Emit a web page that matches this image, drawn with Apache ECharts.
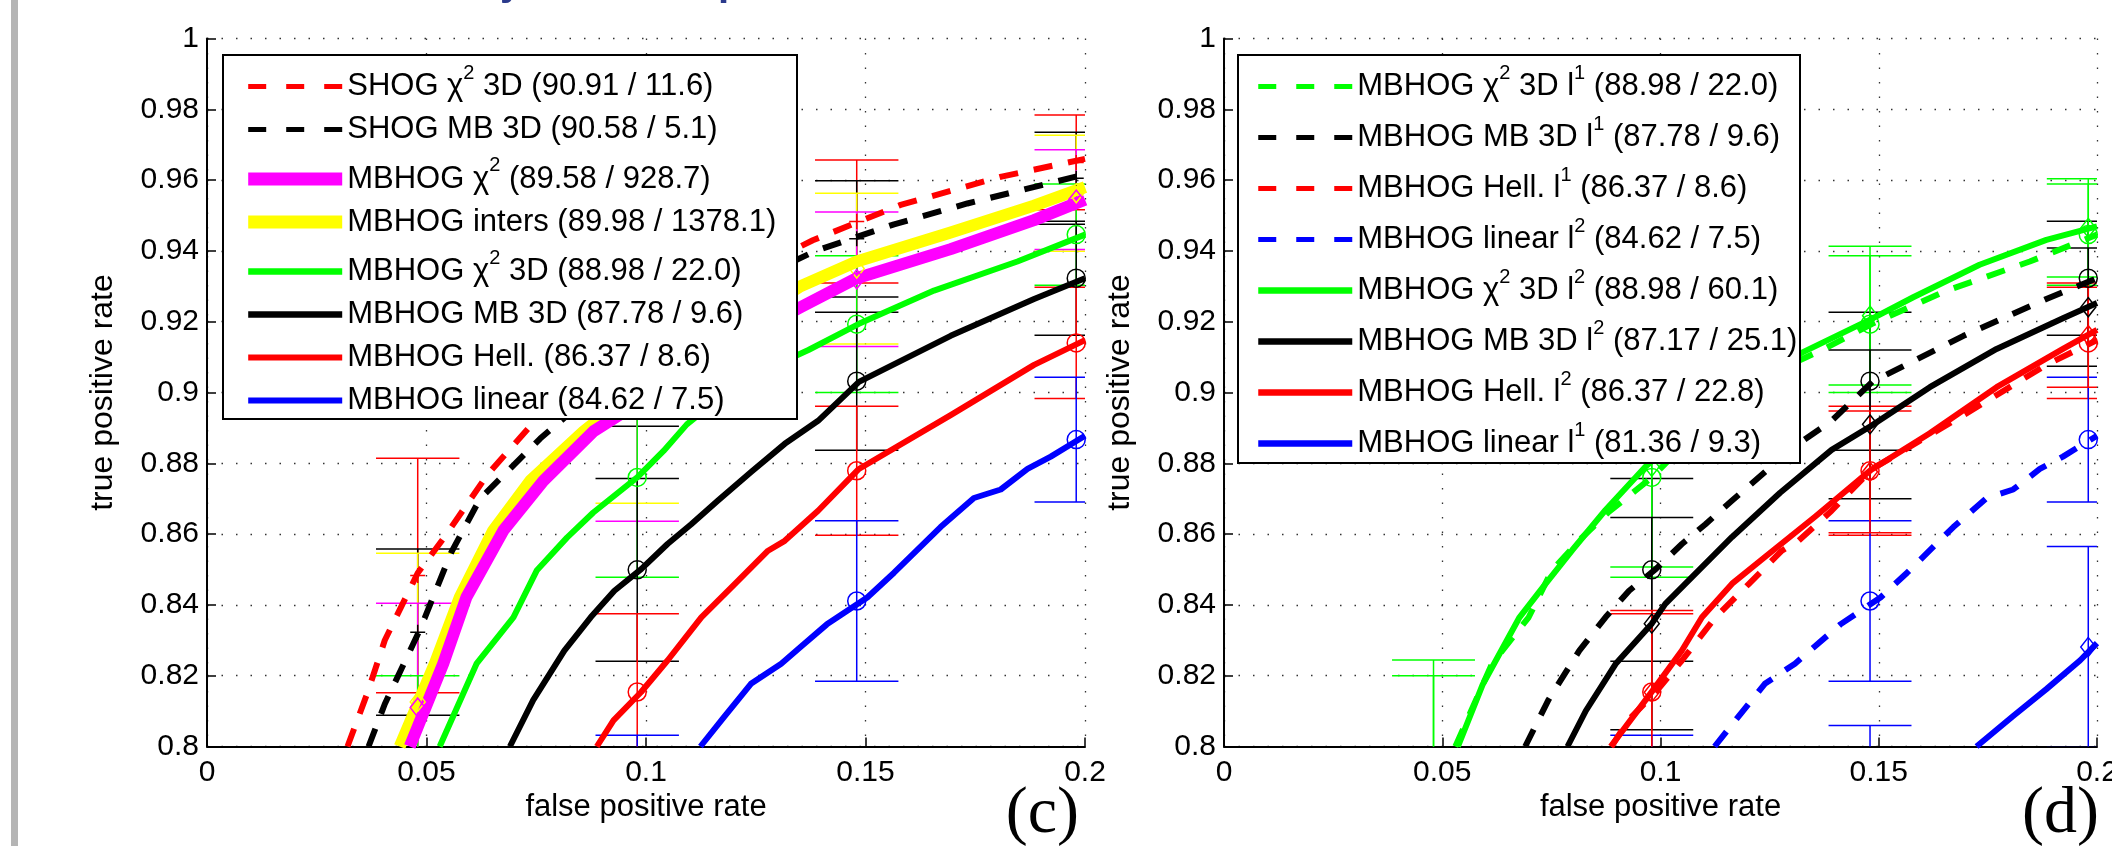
<!DOCTYPE html>
<html>
<head>
<meta charset="utf-8">
<script src="https://cdn.jsdelivr.net/npm/echarts@6.0.0/dist/echarts.min.js"></script>
<style>
  html, body { margin: 0; padding: 0; background: #fff; }
  #chart { width: 2112px; height: 846px; }
</style>
</head>
<body>
<div id="chart"></div>
<script>
// axis ticks
const fprTicks = [0, 0.05, 0.1, 0.15, 0.2];
const tprTicks = [0.8, 0.82, 0.84, 0.86, 0.88, 0.9, 0.92, 0.94, 0.96, 0.98, 1];

// panel (c): ROC curves [fpr, tpr]
const shogChi3d = [[0.032,0.800],[0.0365,0.815],[0.0405,0.830],[0.048,0.849],[0.054,0.859],[0.064,0.877],[0.074,0.891],[0.090,0.908],[0.105,0.921],[0.120,0.932],[0.138,0.943],[0.158,0.953],[0.181,0.961],[0.200,0.966]];
const shogMb3d = [[0.0368,0.800],[0.0405,0.812],[0.0485,0.833],[0.0557,0.855],[0.0622,0.870],[0.0759,0.887],[0.090,0.902],[0.105,0.917],[0.120,0.929],[0.1386,0.940],[0.1565,0.9475],[0.1732,0.9534],[0.200,0.9616]];
const mbhogChi = [[0.0462,0.800],[0.0538,0.8234],[0.0591,0.8422],[0.0675,0.861],[0.0766,0.875],[0.088,0.889],[0.0941,0.8938],[0.105,0.903],[0.120,0.914],[0.1352,0.9241],[0.148,0.9323],[0.1694,0.9405],[0.1884,0.9487],[0.200,0.9545]];
const mbhogInters = [[0.0439,0.800],[0.0519,0.8234],[0.0576,0.8422],[0.0652,0.861],[0.0736,0.875],[0.0858,0.889],[0.095,0.898],[0.107,0.908],[0.120,0.918],[0.1352,0.930],[0.148,0.937],[0.1694,0.9452],[0.1884,0.9528],[0.200,0.958]];
const mbhogChi3d = [[0.053,0.800],[0.0614,0.8234],[0.0698,0.8365],[0.0751,0.8497],[0.082,0.859],[0.088,0.8661],[0.098,0.876],[0.104,0.8835],[0.1093,0.891],[0.1215,0.9032],[0.137,0.912],[0.1485,0.9194],[0.1656,0.9288],[0.1846,0.937],[0.200,0.9446]];
const mbhogMb3d = [[0.069,0.800],[0.0743,0.8131],[0.0814,0.8271],[0.0874,0.8365],[0.0928,0.844],[0.0989,0.8501],[0.1049,0.8572],[0.1103,0.8628],[0.1164,0.8695],[0.124,0.8776],[0.1316,0.8855],[0.1392,0.892],[0.1485,0.903],[0.1694,0.916],[0.1884,0.9264],[0.200,0.9323]];
const mbhogHell = [[0.0888,0.800],[0.0926,0.8074],[0.0989,0.8154],[0.1049,0.8243],[0.1126,0.8365],[0.1202,0.8459],[0.1278,0.8553],[0.1316,0.8581],[0.1392,0.8666],[0.1485,0.8784],[0.1694,0.8936],[0.1884,0.9078],[0.200,0.9148]];
const mbhogLinear = [[0.1124,0.800],[0.1178,0.8084],[0.1239,0.8177],[0.1308,0.8234],[0.1352,0.8281],[0.1412,0.8345],[0.1504,0.8421],[0.1565,0.8491],[0.1671,0.862],[0.1747,0.8702],[0.1808,0.8726],[0.1869,0.8784],[0.1922,0.8819],[0.200,0.8878]];

// panel (d): the l2 / l1 variants (dashed ones reuse the panel (c) curves)
const chi3dL2 = [[0.0536,0.800],[0.0593,0.8176],[0.0677,0.8365],[0.0737,0.846],[0.0798,0.8555],[0.0874,0.8668],[0.0966,0.8791],[0.110,0.893],[0.120,0.902],[0.1323,0.9112],[0.1487,0.921],[0.1579,0.9269],[0.1731,0.9361],[0.1884,0.9431],[0.200,0.9469]];
const mb3dL2 = [[0.0787,0.800],[0.0829,0.8101],[0.0897,0.8233],[0.098,0.8347],[0.1011,0.8403],[0.1088,0.8498],[0.1164,0.8592],[0.1274,0.8717],[0.1392,0.8838],[0.1483,0.8906],[0.1617,0.9015],[0.177,0.9123],[0.1922,0.921],[0.200,0.9253]];
const hellL2 = [[0.0886,0.800],[0.0979,0.8153],[0.1049,0.8271],[0.1095,0.8365],[0.1164,0.846],[0.124,0.8536],[0.1354,0.8649],[0.1483,0.8782],[0.1617,0.8885],[0.177,0.9015],[0.1922,0.9123],[0.200,0.9177]];
const linearL1 = [[0.1724,0.800],[0.1808,0.8086],[0.1884,0.8162],[0.1961,0.8243],[0.200,0.8292]];

// error bars [fpr, mean tpr, std]
const errShogChi3d = [[0.048,0.8483,0.0331],[0.098,0.914,0.020],[0.148,0.9483,0.0174],[0.198,0.965,0.0134]];
const errShogMb3d = [[0.048,0.8323,0.0235],[0.098,0.905,0.0145],[0.148,0.9434,0.0164],[0.198,0.9605,0.013]];
const errMbhogChi = [[0.048,0.811,0.0295],[0.098,0.897,0.0334],[0.148,0.932,0.019],[0.198,0.9545,0.0141]];
const errMbhogInters = [[0.048,0.8126,0.042],[0.098,0.903,0.0343],[0.148,0.935,0.0213],[0.198,0.9563,0.0164]];
const errMbhogChi3d = [[0.048,0.790,0.030],[0.098,0.876,0.0282],[0.148,0.9193,0.0193],[0.198,0.9446,0.0143]];
const errMbhogMb3d = [[0.098,0.8499,0.0258],[0.148,0.9032,0.0195],[0.198,0.9323,0.0161]];
const errMbhogHell = [[0.098,0.8154,0.0221],[0.148,0.8779,0.0182],[0.198,0.914,0.0157]];
const errMbhogLinear = [[0.098,0.780,0.0232],[0.148,0.8411,0.0227],[0.198,0.8867,0.0176]];
const errChi3dL2 = [[0.048,0.790,0.0344],[0.098,0.879,0.0283],[0.148,0.9217,0.0196],[0.198,0.9465,0.0139]];
const errMb3dL2 = [[0.098,0.8347,0.030],[0.148,0.891,0.021],[0.198,0.9241,0.0167]];
const errHellL2 = [[0.098,0.8153,0.0231],[0.148,0.8776,0.0172],[0.198,0.9162,0.0147]];
const errLinearL1 = [[0.148,0.780,0.0259],[0.198,0.8281,0.0284]];

// legend labels ({s|..} = superscript)
const namesC = [
  'SHOG χ{s|2} 3D (90.91 / 11.6)',
  'SHOG MB 3D (90.58 / 5.1)',
  'MBHOG χ{s|2} (89.58 / 928.7)',
  'MBHOG inters (89.98 / 1378.1)',
  'MBHOG χ{s|2} 3D (88.98 / 22.0)',
  'MBHOG MB 3D (87.78 / 9.6)',
  'MBHOG Hell. (86.37 / 8.6)',
  'MBHOG linear (84.62 / 7.5)'
];
const namesD = [
  'MBHOG χ{s|2} 3D l{s|1} (88.98 / 22.0)',
  'MBHOG MB 3D l{s|1} (87.78 / 9.6)',
  'MBHOG Hell. l{s|1} (86.37 / 8.6)',
  'MBHOG linear l{s|2} (84.62 / 7.5)',
  'MBHOG χ{s|2} 3D l{s|2} (88.98 / 60.1)',
  'MBHOG MB 3D l{s|2} (87.17 / 25.1)',
  'MBHOG Hell. l{s|2} (86.37 / 22.8)',
  'MBHOG linear l{s|1} (81.36 / 9.3)'
];

const FONT = '"Liberation Sans", Arial, Helvetica, sans-serif';
const RED = '#ff0000', BLACK = '#000000', MAG = '#ff00ff', YEL = '#ffff00', GRN = '#00ff00', BLUE = '#0000ff';
const CAP = 0.0095;
const PLUS = 'path://M0,8H16M8,0V16';

function lineSeries(name, data, color, width, dashed, xi) {
  return {
    name: name, type: 'line', xAxisIndex: xi, yAxisIndex: xi, data: data,
    symbol: 'none', showSymbol: false, clip: true, silent: true, z: 2,
    animation: false,
    lineStyle: { color: color, width: width, type: dashed ? [19, 16] : 'solid', cap: 'butt', join: 'round' },
    itemStyle: { color: color },
    emphasis: { disabled: true }
  };
}

function errSeries(data, color, xi) {
  return {
    type: 'custom', xAxisIndex: xi, yAxisIndex: xi, data: data, clip: true, silent: true, z: 2,
    encode: { x: 0, y: 1 },
    renderItem: function (params, api) {
      const x = api.value(0), m = api.value(1), s = api.value(2);
      const top = api.coord([x, m + s]);
      const bot = api.coord([x, m - s]);
      const w = api.size([CAP, 0])[0];
      const st = { stroke: color, lineWidth: 1.5, fill: null };
      return {
        type: 'group', children: [
          { type: 'line', shape: { x1: top[0], y1: top[1], x2: bot[0], y2: bot[1] }, style: st },
          { type: 'line', shape: { x1: top[0] - w, y1: top[1], x2: top[0] + w, y2: top[1] }, style: st },
          { type: 'line', shape: { x1: bot[0] - w, y1: bot[1], x2: bot[0] + w, y2: bot[1] }, style: st }
        ]
      };
    }
  };
}

function markSeries(errs, color, symbol, xi) {
  return {
    type: 'scatter', xAxisIndex: xi, yAxisIndex: xi, silent: true, z: 2, clip: true,
    symbol: symbol, symbolSize: symbol === 'diamond' ? [15, 19] : (symbol === PLUS ? 15 : 18),
    itemStyle: { color: 'rgba(0,0,0,0)', borderColor: color, borderWidth: 1.5, opacity: 1 },
    emphasis: { disabled: true },
    data: errs.map(function (e) { return [e[0], e[1]]; })
  };
}

function legendItem(name, width, dashed) {
  return {
    name: name,
    itemStyle: { opacity: 0 },
    lineStyle: { width: width, type: dashed ? [18, 20] : 'solid', cap: 'butt' }
  };
}

function legendBox(left, gap, items) {
  return {
    orient: 'vertical', left: left, top: 63, padding: 0, itemGap: gap,
    itemWidth: 94, itemHeight: 14, selectedMode: false, z: 4,
    backgroundColor: 'transparent',
    formatter: function (n) { return n; },
    textStyle: {
      fontFamily: FONT, fontSize: 31, color: '#000', lineHeight: 34,
      rich: { s: { fontFamily: FONT, fontSize: 20, color: '#000', padding: [0, 0, 27, 0] } }
    },
    data: items
  };
}

function xAxis(i) {
  return {
    type: 'value', gridIndex: i, min: fprTicks[0], max: fprTicks[fprTicks.length - 1], interval: 0.05,
    name: 'false positive rate', nameLocation: 'middle', nameGap: 45,
    nameTextStyle: { fontFamily: FONT, fontSize: 31, color: '#000' },
    axisLine: { onZero: false, lineStyle: { color: '#000', width: 2 } },
    axisTick: { inside: true, length: 9, lineStyle: { color: '#000', width: 1.5 } },
    axisLabel: { fontFamily: FONT, fontSize: 30, color: '#000', margin: 11, showMaxLabel: true, showMinLabel: true,
      formatter: function (v) { return String(+v.toFixed(2)); } },
    splitLine: { show: true, lineStyle: { color: '#333', width: 1.3, type: [1.5, 13] } }
  };
}

function yAxis(i) {
  return {
    type: 'value', gridIndex: i, min: tprTicks[0], max: tprTicks[tprTicks.length - 1], interval: 0.02,
    name: 'true positive rate', nameLocation: 'middle', nameGap: 88,
    nameTextStyle: { fontFamily: FONT, fontSize: 32, color: '#000' },
    axisLine: { onZero: false, lineStyle: { color: '#000', width: 2 } },
    axisTick: { inside: true, length: 9, lineStyle: { color: '#000', width: 1.5 } },
    axisLabel: { fontFamily: FONT, fontSize: 30, color: '#000', margin: 8, showMaxLabel: true, showMinLabel: true,
      formatter: function (v) { return String(+v.toFixed(2)); } },
    splitLine: { show: true, lineStyle: { color: '#333', width: 1.3, type: [1.5, 13] } }
  };
}

const chart = echarts.init(document.getElementById('chart'), null, { renderer: 'canvas' });

const series = [
  // panel (c)
  lineSeries(namesC[0], shogChi3d, RED, 6, true, 0),
  lineSeries(namesC[1], shogMb3d, BLACK, 6, true, 0),
  lineSeries(namesC[3], mbhogInters, YEL, 12, false, 0),
  lineSeries(namesC[2], mbhogChi, MAG, 12, false, 0),
  lineSeries(namesC[4], mbhogChi3d, GRN, 6, false, 0),
  lineSeries(namesC[5], mbhogMb3d, BLACK, 6, false, 0),
  lineSeries(namesC[6], mbhogHell, RED, 6, false, 0),
  lineSeries(namesC[7], mbhogLinear, BLUE, 6, false, 0),
  errSeries(errShogChi3d, RED, 0),
  errSeries(errShogMb3d, BLACK, 0),
  errSeries(errMbhogInters, YEL, 0),
  errSeries(errMbhogChi, MAG, 0),
  errSeries(errMbhogChi3d, GRN, 0),
  errSeries(errMbhogMb3d, BLACK, 0),
  errSeries(errMbhogHell, RED, 0),
  errSeries(errMbhogLinear, BLUE, 0),
  markSeries(errShogChi3d, RED, PLUS, 0),
  markSeries(errShogMb3d, BLACK, PLUS, 0),
  markSeries(errMbhogInters, YEL, 'diamond', 0),
  markSeries(errMbhogChi, MAG, 'diamond', 0),
  markSeries(errMbhogChi3d, GRN, 'circle', 0),
  markSeries(errMbhogMb3d, BLACK, 'circle', 0),
  markSeries(errMbhogHell, RED, 'circle', 0),
  markSeries(errMbhogLinear, BLUE, 'circle', 0),
  // panel (d)
  lineSeries(namesD[0], mbhogChi3d, GRN, 6, true, 1),
  lineSeries(namesD[1], mbhogMb3d, BLACK, 6, true, 1),
  lineSeries(namesD[2], mbhogHell, RED, 6, true, 1),
  lineSeries(namesD[3], mbhogLinear, BLUE, 6, true, 1),
  lineSeries(namesD[4], chi3dL2, GRN, 6, false, 1),
  lineSeries(namesD[5], mb3dL2, BLACK, 6, false, 1),
  lineSeries(namesD[6], hellL2, RED, 6, false, 1),
  lineSeries(namesD[7], linearL1, BLUE, 6, false, 1),
  errSeries(errMbhogChi3d, GRN, 1),
  errSeries(errMbhogMb3d, BLACK, 1),
  errSeries(errMbhogHell, RED, 1),
  errSeries(errMbhogLinear, BLUE, 1),
  errSeries(errChi3dL2, GRN, 1),
  errSeries(errMb3dL2, BLACK, 1),
  errSeries(errHellL2, RED, 1),
  errSeries(errLinearL1, BLUE, 1),
  markSeries(errMbhogChi3d, GRN, 'circle', 1),
  markSeries(errMbhogMb3d, BLACK, 'circle', 1),
  markSeries(errMbhogHell, RED, 'circle', 1),
  markSeries(errMbhogLinear, BLUE, 'circle', 1),
  markSeries(errChi3dL2, GRN, 'diamond', 1),
  markSeries(errMb3dL2, BLACK, 'diamond', 1),
  markSeries(errHellL2, RED, 'diamond', 1),
  markSeries(errLinearL1, BLUE, 'diamond', 1)
];

const option = {
  backgroundColor: '#ffffff',
  animation: false,
  grid: [
    { left: 207, top: 38.5, width: 878, height: 708, containLabel: false, outerBoundsMode: 'none' },
    { left: 1224, top: 38.5, width: 873, height: 708, containLabel: false, outerBoundsMode: 'none' }
  ],
  xAxis: [xAxis(0), xAxis(1)],
  yAxis: [yAxis(0), yAxis(1)],
  legend: [
    legendBox(241.7, 9, [
      legendItem(namesC[0], 5, true), legendItem(namesC[1], 5, true),
      legendItem(namesC[2], 13, false), legendItem(namesC[3], 13, false),
      legendItem(namesC[4], 6.5, false), legendItem(namesC[5], 6.5, false),
      legendItem(namesC[6], 6, false), legendItem(namesC[7], 6, false)
    ]),
    legendBox(1255, 10.5, namesD.map(function (n, i) { return legendItem(n, i < 4 ? 5 : 6.5, i < 4); }))
  ],
  graphic: [
    { type: 'rect', x: 11, y: 0, shape: { width: 7, height: 846 }, style: { fill: '#b5b5b5' }, z: 1 },
    { type: 'rect', shape: { x: 223, y: 55, width: 574, height: 364 }, style: { fill: '#fff', stroke: '#000', lineWidth: 2 }, z: 3 },
    { type: 'rect', shape: { x: 1238, y: 55, width: 562, height: 408 }, style: { fill: '#fff', stroke: '#000', lineWidth: 2 }, z: 3 },
    { type: 'text', x: 1079, y: 848, z: 5, style: { text: '(c)', fontFamily: '"Liberation Serif", "Times New Roman", serif', fontSize: 66, fill: '#000', align: 'right', verticalAlign: 'bottom' } },
    { type: 'text', x: 2099, y: 848, z: 5, style: { text: '(d)', fontFamily: '"Liberation Serif", "Times New Roman", serif', fontSize: 66, fill: '#000', align: 'right', verticalAlign: 'bottom' } },
    { type: 'text', x: 500, y: 4, z: 5, style: { text: 'y', fontFamily: FONT, fontWeight: 'bold', fontSize: 40, fill: '#2b3a8c', align: 'left', verticalAlign: 'bottom' } },
    { type: 'text', x: 718, y: 4, z: 5, style: { text: 'p', fontFamily: FONT, fontWeight: 'bold', fontSize: 40, fill: '#2b3a8c', align: 'left', verticalAlign: 'bottom' } }
  ],
  series: series
};

chart.setOption(option);
</script>
</body>
</html>
